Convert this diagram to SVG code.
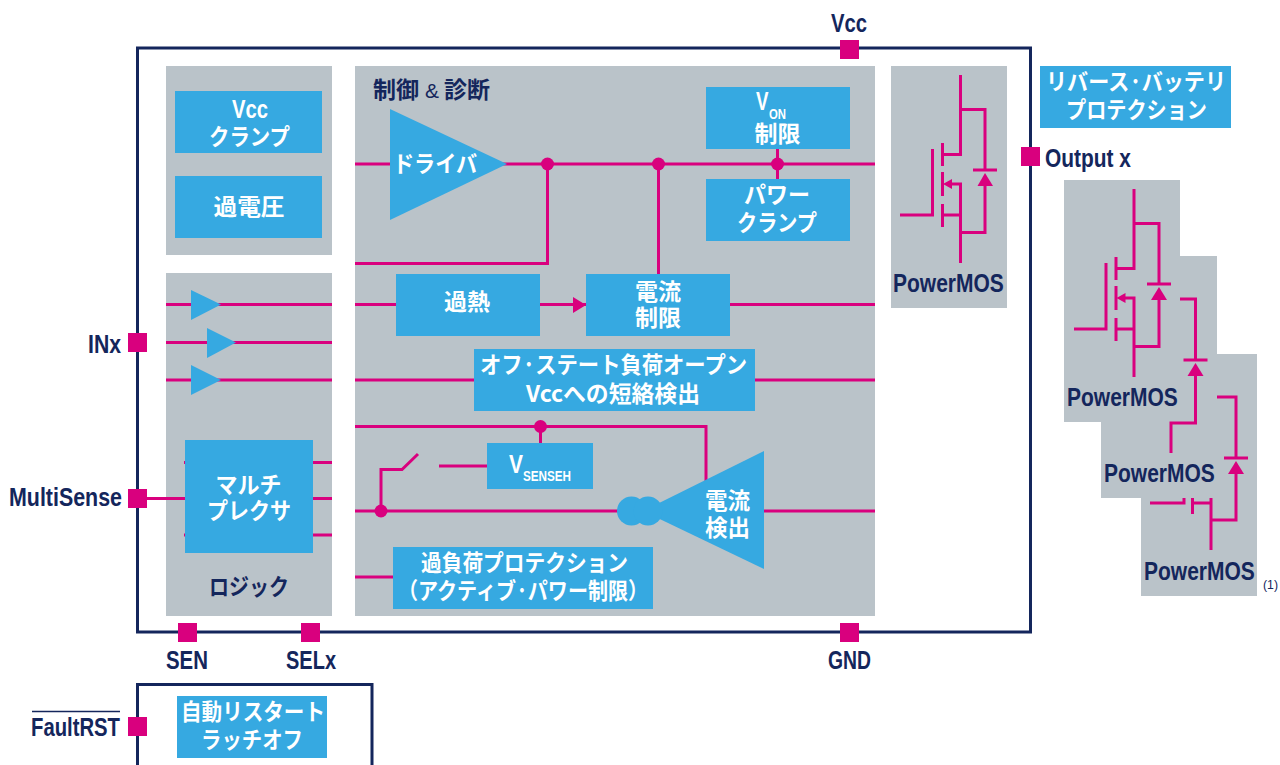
<svg xmlns="http://www.w3.org/2000/svg" width="1280" height="765" viewBox="0 0 1280 765">
<style>
.frame{fill:none;stroke:#14265c;stroke-width:3}
.panel{fill:#bac3c9}
.box{fill:#36a9e1}
.port{fill:#d9007e}
.wire{fill:none;stroke:#d9007e;stroke-width:3}
.dot{fill:#d9007e}
.arrow{fill:#d9007e}
text{font-family:"Liberation Sans","Noto Sans CJK JP",sans-serif;font-weight:700}
.w{fill:#fff;font-size:23px;text-anchor:middle;font-family:"Noto Sans CJK JP",sans-serif;font-weight:700}
.l{fill:#fff;font-size:25px}
.s{fill:#fff;font-size:14px}
.n{fill:#14265c;font-size:26px}
.nj{fill:#14265c;font-size:23px;font-family:"Noto Sans CJK JP",sans-serif;font-weight:700}
.t{fill:#14265c;font-weight:400}
</style>
<rect class="frame" x="137.500" y="48" width="893" height="584"/>
<path class="frame" d="M137.500 770V684.500H372V770"/>
<rect class="panel" x="166" y="66" width="166" height="189"/>
<rect class="panel" x="166" y="273" width="166" height="343"/>
<rect class="panel" x="355" y="66" width="520" height="550"/>
<rect class="panel" x="891" y="66" width="116" height="242"/>
<rect class="panel" x="1141" y="354" width="116" height="242"/>
<rect class="panel" x="1101" y="256" width="116" height="242"/>
<rect class="panel" x="1064" y="180" width="116" height="242"/>
<g id="connectors">
<path class="wire" d="M355 164H875M547.500 164V263.500H355M658.500 164V274M777.500 149V179"/>
<path class="wire" d="M166 304.500H332M166 342.500H332M166 380H332"/>
<path class="wire" d="M355 304.500H875M355 380H875"/>
<path class="wire" d="M147 498.500H332M313 462.500H332M313 535H332M184 462.500H186M184 535H186"/>
<path class="wire" d="M355 426.500H706V482M540.500 426.500V443M355 511H620M764 511H875M381 511V469.500H402L418 454M439 466H487M355 577H393"/>
<polygon class="arrow" points="573,297 573,313 586,305"/>
<circle class="dot" cx="547.500" cy="164" r="6.500"/>
<circle class="dot" cx="658.500" cy="164" r="6.500"/>
<circle class="dot" cx="777.500" cy="164" r="6.500"/>
<circle class="dot" cx="540.500" cy="426.500" r="6.500"/>
<circle class="dot" cx="381" cy="511" r="6.500"/>
<g id="mos1">
<path class="wire" d="M960.500 75V154.500H942.500M942.500 143V166M942.500 172V196M942.500 204V227M900 215H932.500V149M942.500 215H960.500M950 184H960.500V263M960.500 109.500H985V170M973 170H997M985 180V232.500H960.500"/>
<polygon class="arrow" points="943,184 952,179 952,189"/>
<polygon class="arrow" points="985,173 993,186 977.500,186"/>
</g>
<g id="mos2">
<path class="wire" d="M1134 189V268.500H1116M1116 257V280M1116 286V310M1116 318V341M1074 329H1106V263M1116 329H1134M1123 298H1134V377M1134 223.500H1159V284M1147 284H1171M1159 294V346.500H1134"/>
<polygon class="arrow" points="1116.500,298 1125.500,293 1125.500,303"/>
<polygon class="arrow" points="1159,287 1167,300 1151,300"/>
</g>
<g id="mos3">
<path class="wire" d="M1180 299H1195.500V360M1183.500 360H1207.500M1195.500 370V423H1171V453"/>
<polygon class="arrow" points="1195.500,363 1203.500,376 1187.500,376"/>
</g>
<g id="mos4">
<path class="wire" d="M1217 397H1236V458M1224 458H1248M1236 468V520H1211M1211 498V550M1150 503H1184V498M1192.500 498V514M1192.500 503H1211"/>
<polygon class="arrow" points="1236,461 1244,474 1228,474"/>
</g>
</g>
<g id="vcc-clamp"><rect class="box" x="175" y="91" width="147" height="62"/><text class="l" x="232" y="118" textLength="36" lengthAdjust="spacingAndGlyphs">Vcc</text><text class="w" x="249.500" y="145" textLength="81" lengthAdjust="spacingAndGlyphs">クランプ</text></g>
<g id="overvoltage"><rect class="box" x="175" y="176" width="147" height="62"/><text class="w" x="249" y="215" textLength="71" lengthAdjust="spacingAndGlyphs">過電圧</text></g>
<g id="von"><rect class="box" x="706" y="87" width="144" height="62"/><text class="l" x="756" y="110" textLength="12.500" lengthAdjust="spacingAndGlyphs">V</text><text class="s" x="769" y="119" textLength="17" lengthAdjust="spacingAndGlyphs" style="font-size:15px">ON</text><text class="w" x="777.500" y="142" textLength="46" lengthAdjust="spacingAndGlyphs">制限</text></g>
<g id="power-clamp"><rect class="box" x="706" y="179" width="144" height="62"/><text class="w"><tspan x="777" y="203" textLength="66" lengthAdjust="spacingAndGlyphs">パワー</tspan><tspan x="777" y="231" textLength="80" lengthAdjust="spacingAndGlyphs">クランプ</tspan></text></g>
<g id="overheat"><rect class="box" x="396" y="274" width="144" height="62"/><text class="w" x="467" y="310" textLength="46" lengthAdjust="spacingAndGlyphs">過熱</text></g>
<g id="current-limit"><rect class="box" x="586" y="274" width="144" height="62"/><text class="w"><tspan x="658" y="300" textLength="46" lengthAdjust="spacingAndGlyphs">電流</tspan><tspan x="658" y="326" textLength="46" lengthAdjust="spacingAndGlyphs">制限</tspan></text></g>
<g id="off-state"><rect class="box" x="474" y="349" width="281" height="62"/><text class="w"><tspan x="613.500" y="373" textLength="267" lengthAdjust="spacingAndGlyphs">オフ·ステート負荷オープン</tspan><tspan x="613" y="402" textLength="174" lengthAdjust="spacingAndGlyphs">Vccへの短絡検出</tspan></text></g>
<g id="vsenseh"><rect class="box" x="487" y="443" width="106" height="46"/><text class="l" x="509" y="473" textLength="14" lengthAdjust="spacingAndGlyphs">V</text><text class="s" x="523" y="481" textLength="48" lengthAdjust="spacingAndGlyphs">SENSEH</text></g>
<g id="overload"><rect class="box" x="393" y="547" width="260" height="62"/><text class="w"><tspan x="524.500" y="571" textLength="207" lengthAdjust="spacingAndGlyphs">過負荷プロテクション</tspan><tspan x="523" y="599" textLength="250" lengthAdjust="spacingAndGlyphs">（アクティブ·パワー制限）</tspan></text></g>
<g id="mux"><rect class="box" x="185" y="440" width="128" height="113"/><text class="w"><tspan x="248.500" y="493" textLength="66" lengthAdjust="spacingAndGlyphs">マルチ</tspan><tspan x="249" y="519" textLength="84" lengthAdjust="spacingAndGlyphs">プレクサ</tspan></text></g>
<g id="reverse"><rect class="box" x="1040" y="66" width="191" height="62"/><text class="w"><tspan x="1136" y="90" textLength="180" lengthAdjust="spacingAndGlyphs">リバース·バッテリ</tspan><tspan x="1136.500" y="118" textLength="141" lengthAdjust="spacingAndGlyphs">プロテクション</tspan></text></g>
<g id="restart"><rect class="box" x="177" y="696" width="150" height="62"/><text class="w"><tspan x="253" y="720" textLength="144" lengthAdjust="spacingAndGlyphs">自動リスタート</tspan><tspan x="252" y="748" textLength="102" lengthAdjust="spacingAndGlyphs">ラッチオフ</tspan></text></g>
<g id="driver"><polygon class="box" points="390,109 390,220 507,164"/><text class="w" x="435" y="172" textLength="84" lengthAdjust="spacingAndGlyphs">ドライバ</text></g>
<g id="current-sense"><polygon class="box" points="764,451 764,569 643,511"/><circle class="box" cx="631.500" cy="511" r="14.500"/><circle class="box" cx="648" cy="511" r="14.500"/><text class="w"><tspan x="727.500" y="509" textLength="45" lengthAdjust="spacingAndGlyphs">電流</tspan><tspan x="727.500" y="536" textLength="45" lengthAdjust="spacingAndGlyphs">検出</tspan></text></g>
<g id="buf1"><polygon class="box" points="191,290 191,320 221,304.500"/></g>
<g id="buf2"><polygon class="box" points="207,328 207,358 236,342.500"/></g>
<g id="buf3"><polygon class="box" points="191,365 191,395 221,380"/></g>
<g id="labels">
<text class="nj" x="373" y="98" textLength="46" lengthAdjust="spacingAndGlyphs">制御</text><text class="t" x="425" y="98" style="font-size:20px" textLength="14" lengthAdjust="spacingAndGlyphs">&amp;</text><text class="nj" x="444" y="98" textLength="46" lengthAdjust="spacingAndGlyphs">診断</text>
<text class="nj" x="249" y="595" text-anchor="middle" textLength="80" lengthAdjust="spacingAndGlyphs">ロジック</text>
<text class="n" transform="translate(893 292) scale(.808 1)">PowerMOS</text>
<text class="n" transform="translate(1067 406) scale(.808 1)">PowerMOS</text>
<text class="n" transform="translate(1104 482) scale(.808 1)">PowerMOS</text>
<text class="n" transform="translate(1144 580) scale(.808 1)">PowerMOS</text>
<text class="t" x="1263" y="589" style="font-size:13px" textLength="15" lengthAdjust="spacingAndGlyphs">(1)</text>
<text class="n" x="831" y="32" textLength="36" lengthAdjust="spacingAndGlyphs">Vcc</text>
<text class="n" x="1045" y="167" textLength="86" lengthAdjust="spacingAndGlyphs">Output x</text>
<text class="n" x="88" y="353" textLength="33" lengthAdjust="spacingAndGlyphs">INx</text>
<text class="n" x="9" y="506" textLength="113" lengthAdjust="spacingAndGlyphs">MultiSense</text>
<text class="n" x="166" y="669" textLength="42" lengthAdjust="spacingAndGlyphs">SEN</text>
<text class="n" x="286" y="669" textLength="50" lengthAdjust="spacingAndGlyphs">SELx</text>
<text class="n" x="828" y="669" textLength="43" lengthAdjust="spacingAndGlyphs">GND</text>
<text class="n" x="31" y="736" textLength="89" lengthAdjust="spacingAndGlyphs">FaultRST</text>
<path d="M32 711.500H120" stroke="#14265c" stroke-width="1.500" fill="none"/>
</g>
<g id="ports">
<rect class="port" x="840" y="40" width="19" height="19"/>
<rect class="port" x="1021" y="147" width="19" height="19"/>
<rect class="port" x="128" y="333" width="19" height="19"/>
<rect class="port" x="128" y="489" width="19" height="19"/>
<rect class="port" x="178" y="623" width="19" height="19"/>
<rect class="port" x="301" y="623" width="19" height="19"/>
<rect class="port" x="840" y="623" width="19" height="19"/>
<rect class="port" x="128" y="717" width="19" height="19"/>
</g>
</svg>
